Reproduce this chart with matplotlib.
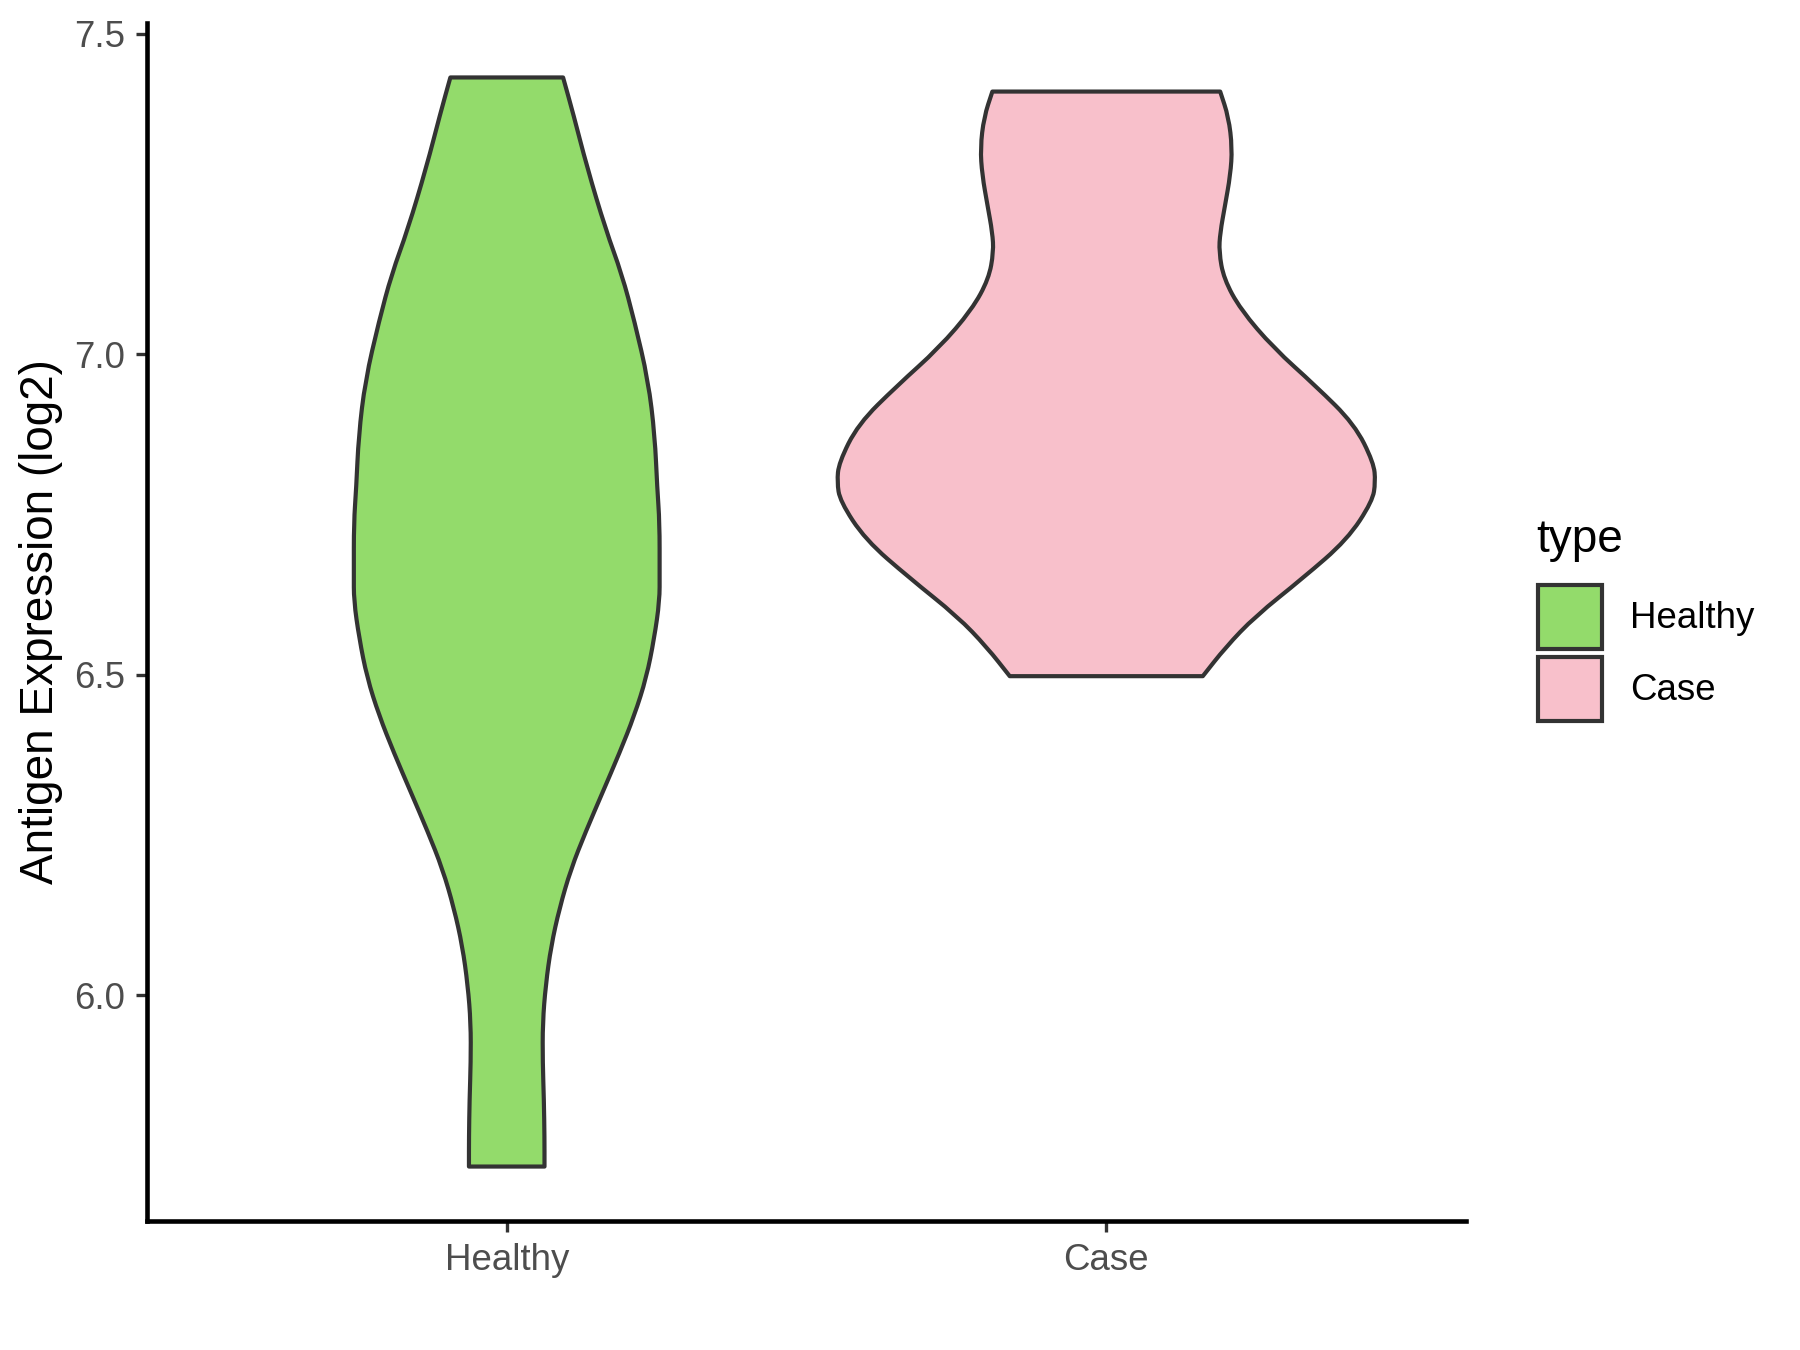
import numpy as np
import matplotlib
matplotlib.use("Agg")
import matplotlib.pyplot as plt
from matplotlib.patches import Patch, PathPatch
from matplotlib.path import Path

plt.rcParams['font.family'] = ['Liberation Sans', 'DejaVu Sans']

# ---- data (violin outline profiles) ----
categories = ["Healthy", "Case"]
fill_colors = ["#93DB6B", "#F8C0CB"]
edge_color = "#333333"

# expression level (log2) and half-width of the violin (x units) at that level
healthy_y = [7.432, 7.375, 7.292, 7.195, 7.125, 7.052, 6.959, 6.873, 6.792, 6.737,
             6.658, 6.616, 6.557, 6.496, 6.437, 6.378, 6.317, 6.256, 6.197, 6.136,
             6.077, 6.016, 5.957, 5.896, 5.837, 5.778, 5.733]
healthy_w = [0.094, 0.111, 0.134, 0.165, 0.192, 0.213, 0.236, 0.247, 0.251, 0.255,
             0.255, 0.255, 0.246, 0.233, 0.213, 0.188, 0.160, 0.132, 0.107, 0.088,
             0.074, 0.065, 0.060, 0.060, 0.062, 0.063, 0.063]

case_y = [7.410, 7.370, 7.322, 7.280, 7.232, 7.190, 7.160, 7.118, 7.070, 7.010,
          6.951, 6.891, 6.831, 6.801, 6.771, 6.711, 6.651, 6.591, 6.543, 6.498]
case_w = [0.190, 0.204, 0.210, 0.207, 0.198, 0.190, 0.188, 0.196, 0.224, 0.279,
          0.349, 0.414, 0.446, 0.449, 0.444, 0.402, 0.328, 0.248, 0.199, 0.161]

y_ticks = [6.0, 6.5, 7.0, 7.5]
y_label = "Antigen Expression (log2)"
legend_title = "type"

profiles = [(healthy_y, healthy_w), (case_y, case_w)]


def smooth_side(pts):
    """Quadratic-Bezier path pieces through midpoints of the read outline points."""
    verts = [pts[0]]
    codes = [Path.LINETO]
    verts.append(((pts[0][0] + pts[1][0]) / 2, (pts[0][1] + pts[1][1]) / 2))
    codes.append(Path.LINETO)
    for k in range(1, len(pts) - 1):
        mid = ((pts[k][0] + pts[k + 1][0]) / 2, (pts[k][1] + pts[k + 1][1]) / 2)
        verts += [pts[k], mid]
        codes += [Path.CURVE3, Path.CURVE3]
    verts.append(pts[-1])
    codes.append(Path.LINETO)
    return verts, codes


# ---- figure ----
fig = plt.figure(figsize=(12, 9), dpi=150)
ax = fig.add_axes([147/1800, 1 - 1221/1350, (1466-147)/1800, (1221-23)/1350])

for i, ((yy, ww), col) in enumerate(zip(profiles, fill_colors)):
    pos = i + 1
    left = [(pos - w, y) for y, w in zip(yy, ww)]            # top -> bottom
    right = [(pos + w, y) for y, w in zip(yy, ww)][::-1]     # bottom -> top
    v1, c1 = smooth_side(left)
    v2, c2 = smooth_side(right)
    c1[0] = Path.MOVETO
    verts = v1 + v2 + [v1[0]]
    codes = c1 + c2 + [Path.CLOSEPOLY]
    patch = PathPatch(Path(verts, codes), facecolor=col, edgecolor=edge_color,
                      linewidth=2.0, joinstyle='round', zorder=2)
    ax.add_patch(patch)

all_y = np.concatenate([healthy_y, case_y])
lo, hi = all_y.min(), all_y.max()
rng = hi - lo
ax.set_ylim(lo - 0.05*rng, hi + 0.05*rng)
ax.set_xlim(0.4, 2.6)

ax.set_xticks([1, 2])
ax.set_xticklabels(categories)
ax.set_yticks(y_ticks)
ax.set_yticklabels([f"{t:.1f}" for t in y_ticks])

for s in ["top", "right"]:
    ax.spines[s].set_visible(False)
for s in ["left", "bottom"]:
    ax.spines[s].set_linewidth(2.2)
    ax.spines[s].set_color("black")

ax.tick_params(axis='both', length=5.5, width=1.6, color="#333333",
               labelsize=17.6, labelcolor="#4D4D4D", pad=5)

ax.set_ylabel(y_label, fontsize=22, color="black")
ax.yaxis.set_label_coords((63-147)/(1466-147), 0.5)

fig.text(1536/1800, 1 - 540/1350, legend_title, fontsize=22, color="black",
         ha='left', va='center')

handles = [Patch(facecolor=c, edgecolor=edge_color, linewidth=2.0, label=l)
           for c, l in zip(fill_colors, categories)]
leg = fig.legend(handles=handles, loc='upper left',
                 bbox_to_anchor=(1538/1800, 1 - 585/1350), frameon=False,
                 fontsize=17.6, handlelength=1.75, handleheight=2.3,
                 labelspacing=0.22, handletextpad=0.75, borderpad=0.0,
                 borderaxespad=0.0)

fig.savefig("out.png", dpi=150)
